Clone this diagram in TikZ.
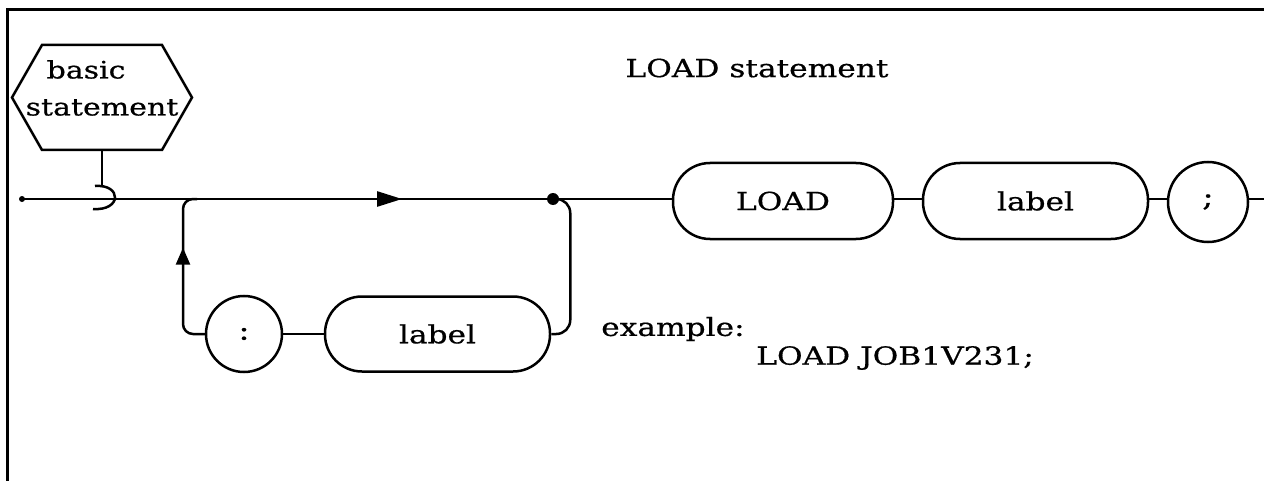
\documentclass[tikz,border=0pt]{standalone}
\usepackage{fontspec}
\setmainfont[FakeStretch=1.25,FakeBold=0.6]{DejaVu Serif}
\usetikzlibrary{arrows.meta,decorations.markings,calc}
\begin{document}
\begin{tikzpicture}[x=0.5pt,y=-0.5pt,
  line width=1.25pt,
  txt/.style={inner sep=0pt,font=\fontsize{12.5}{18.5}\selectfont},
  term/.style={draw,rounded corners=18.5pt,minimum height=38pt,inner sep=0pt,font=\fontsize{12.5}{13}\selectfont},
  circ/.style={draw,circle,inner sep=0pt,font=\fontsize{13.5}{13}\selectfont},
  hexa/.style={inner sep=0pt,align=left,font=\fontsize{12}{18.5}\selectfont},
  junction/.style={circle,fill,inner sep=0pt,minimum size=6pt},
  arr/.style={postaction={decorate},decoration={markings,mark=at position #1 with {\arrow{Triangle[length=12.5pt,width=7.5pt]}}}},
  uparr/.style={postaction={decorate},decoration={markings,mark=at position #1 with {\arrow{Triangle[length=8.5pt,width=7pt]}}}},
  frame/.style={line width=1.5pt}
]
\useasboundingbox (0,0) rectangle (1264,481);
% frame
\coordinate (fTL) at (7,10);
\coordinate (fTR) at (1264,10);
\coordinate (fBL) at (7,481);
\draw[frame] (fBL) -- (fTL) -- (fTR);

% title
\node[txt] (title) at (757,68) {LOAD statement};

% hexagon
\node[hexa] (bs) at (102,88) {\hspace*{10.5pt}basic\\statement};
\coordinate (hc) at (102,97.5);
\draw ($(hc)+(-60,-52.5)$) -- ($(hc)+(60,-52.5)$) -- ($(hc)+(90,0)$) -- ($(hc)+(60,52.5)$) -- ($(hc)+(-60,52.5)$) -- ($(hc)+(-90,0)$) -- cycle;
\coordinate (bsS) at (102,150);

% main line coordinates
\coordinate (start) at (22,199);
\coordinate (hop) at (102,199);
\coordinate (jl) at (183,199);
\coordinate (endR) at (1264,199);

% top row
\node[term,minimum width=110pt] (load) at (783,201) {LOAD};
\node[term,minimum width=112.5pt] (lbl) at (1035.5,201) {label};
\node[circ,minimum size=40pt] (semi) at (1208,202) {;};

% lower row
\node[circ,minimum size=38pt] (colon) at (244,334) {:};
\node[term,minimum width=112.5pt,minimum height=37.5pt] (lbl2) at (437.5,334) {label};

% junction
\node[junction] (dot) at (553,199) {};
\fill (start) circle (1.5pt);

% main line
\draw[arr=0.585] (start) -- (load.west |- start);
\draw (load.east |- start) -- (lbl.west |- start);
\draw (lbl.east |- start) -- (semi.west |- start);
\draw (semi.east |- endR) -- (endR);

% hop from basic statement
\draw (bsS) -- ($(hop)+(0,-13)$);
\draw ($(hop)+(-7,-13)$) .. controls ($(hop)+(20,-15)$) and ($(hop)+(20,12)$) .. ($(hop)+(-9,10)$);

% loop
\draw[rounded corners=5pt,uparr=0.64] (colon.west) -| (jl) -- ++(14,0);
\draw (colon.east) -- (lbl2.west);
\draw[rounded corners=7pt] (dot.center) -| ($(lbl2.east)+(19,0)$) -- (lbl2.east);

% example
\node[txt,anchor=west] (ex) at (600,329) {example:};
\node[txt,anchor=west] (exl) at (755,358) {LOAD JOB1V231;};
\end{tikzpicture}
\end{document}
